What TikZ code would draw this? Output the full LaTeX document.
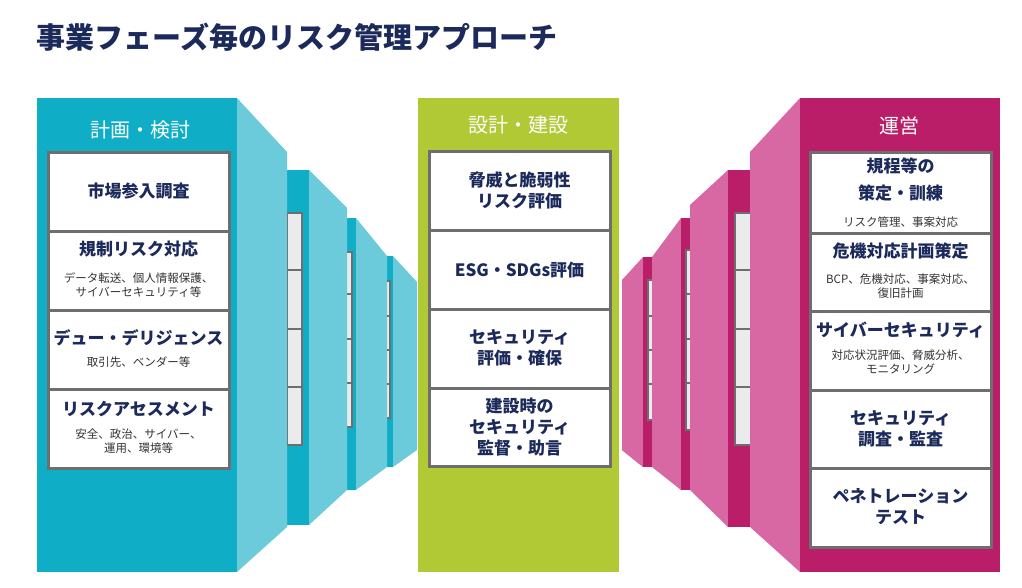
\documentclass[tikz,border=0pt]{standalone}
\usepackage{fontspec}
\setmainfont{Noto Sans CJK JP}
\definecolor{navy}{HTML}{1B2A5A}
\definecolor{teal}{HTML}{10AEC6}
\definecolor{teallt}{HTML}{6CCBDA}
\definecolor{lime}{HTML}{B0C935}
\definecolor{mag}{HTML}{BA1E68}
\definecolor{maglt}{HTML}{D768A4}
\definecolor{bgray}{HTML}{6E6E6E}
\definecolor{sgray}{HTML}{EBEBEB}
\begin{document}
\begin{tikzpicture}[x=1pt,y=-1pt,
  cell/.style={draw=bgray,line width=3pt,fill=white},
  scell/.style={draw=bgray,line width=2pt,fill=sgray},
  hd/.style={font=\fontsize{17}{21}\selectfont\bfseries,text=navy,align=center},
  sub/.style={font=\fontsize{11.5}{14}\selectfont,text=black!80,align=center},
  ptitle/.style={font=\fontsize{20}{24}\selectfont,text=white}]
\useasboundingbox (0,0) rectangle (1022,588);
\node[anchor=west,font=\fontsize{29}{34}\selectfont\bfseries,text=navy] (title) at (33,37) {事業フェーズ毎のリスク管理アプローチ};
% ---------- left (teal) ----------
\fill[teallt] (393,256)--(417,282)--(417,450)--(393,467)--cycle;
\fill[teal] (387,256) rectangle (393,467);
\foreach \a/\b in {281/316,316/350,350/384,384/418}{\draw[scell,line width=1.5pt] (386,\a) rectangle (390,\b);}
\fill[teallt] (356,218)--(387,256)--(387,467)--(356,490)--cycle;
\fill[teal] (347,218) rectangle (356,490);
\foreach \a/\b in {252/294,294/339,339/383,383/427}{\draw[scell] (346,\a) rectangle (352,\b);}
\fill[teallt] (309,170)--(347,208)--(347,490)--(309,525)--cycle;
\fill[teal] (287,170) rectangle (309,525);
\foreach \a/\b in {213/270,270/329,329/387,387/445}{\draw[scell] (287,\a) rectangle (302,\b);}
\fill[teallt] (237,98)--(287,152)--(287,527)--(237,572)--cycle;
\fill[teal] (37,98) rectangle (237,572);
\node[ptitle] (t1) at (140,130) {計画・検討};
\draw[cell] (48,153) rectangle (229,231);
\draw[cell] (48,231) rectangle (229,310);
\draw[cell] (48,310) rectangle (229,389);
\draw[cell] (48,389) rectangle (229,468);
\node[hd] (a1) at (138.5,191) {市場参入調査};
\node[hd] (a2) at (138.5,249) {規制リスク対応};
\node[sub] (a2s) at (138.5,285) {データ転送、個人情報保護、\\サイバーセキュリティ等};
\node[hd] (a3) at (138.5,338) {デュー・デリジェンス};
\node[sub] (a3s) at (138.5,362) {取引先、ベンダー等};
\node[hd] (a4) at (138.5,409) {リスクアセスメント};
\node[sub] (a4s) at (138.5,441) {安全、政治、サイバー、\\運用、環境等};
% ---------- middle (lime) ----------
\fill[lime] (418,98) rectangle (619,572);
\node[ptitle] (t2) at (518.5,125) {設計・建設};
\draw[cell] (429,152) rectangle (610,230);
\draw[cell] (429,230) rectangle (610,309);
\draw[cell] (429,309) rectangle (610,388);
\draw[cell] (429,388) rectangle (610,466);
\node[hd] (b1) at (519.5,190) {脅威と脆弱性\\リスク評価};
\node[hd] (b2) at (519.5,270) {ESG・SDGs評価};
\node[hd] (b3) at (519.5,348) {セキュリティ\\評価・確保};
\node[hd] (b4) at (519.5,427) {建設時の\\セキュリティ\\監督・助言};
% ---------- right (magenta) ----------
\fill[maglt] (643,280)--(622,280)--(622,450)--(643,467)--cycle;
\fill[maglt] (643,257)--(622,280)--(622,450)--(643,467)--cycle;
\fill[mag] (643,257) rectangle (652,467);
\foreach \a/\b in {280/316,316/350,350/384,384/420}{\draw[scell,line width=1.5pt] (648,\a) rectangle (653,\b);}
\fill[maglt] (681,218)--(652,257)--(652,467)--(681,490)--cycle;
\fill[mag] (681,218) rectangle (690,490);
\foreach \a/\b in {250/294,294/339,339/383,383/430}{\draw[scell] (686,\a) rectangle (691,\b);}
\fill[maglt] (728,170)--(690,205)--(690,490)--(728,527)--cycle;
\fill[mag] (728,170) rectangle (750,527);
\foreach \a/\b in {213/270,270/329,329/387,387/445}{\draw[scell] (735,\a) rectangle (751,\b);}
\fill[maglt] (800,98)--(750,152)--(750,527)--(800,572)--cycle;
\fill[mag] (800,98) rectangle (1000,572);
\node[ptitle] (t3) at (899,126) {運営};
\draw[cell] (810,153) rectangle (991,233);
\draw[cell] (810,233) rectangle (991,311);
\draw[cell] (810,311) rectangle (991,390);
\draw[cell] (810,390) rectangle (991,468);
\draw[cell] (810,468) rectangle (991,547);
\node[hd] (c1) at (900.5,180) {規程等の\\[6pt]策定・訓練};
\node[sub] (c1s) at (900.5,222) {リスク管理、事案対応};
\node[hd] (c2) at (900.5,251) {危機対応計画策定};
\node[sub] (c2s) at (900.5,286) {BCP、危機対応、事案対応、\\復旧計画};
\node[hd] (c3) at (900.5,330) {サイバーセキュリティ};
\node[sub] (c3s) at (900.5,362) {対応状況評価、脅威分析、\\モニタリング};
\node[hd] (c4) at (900.5,429) {セキュリティ\\調査・監査};
\node[hd] (c5) at (900.5,507) {ペネトレーション\\テスト};
\end{tikzpicture}
\end{document}
